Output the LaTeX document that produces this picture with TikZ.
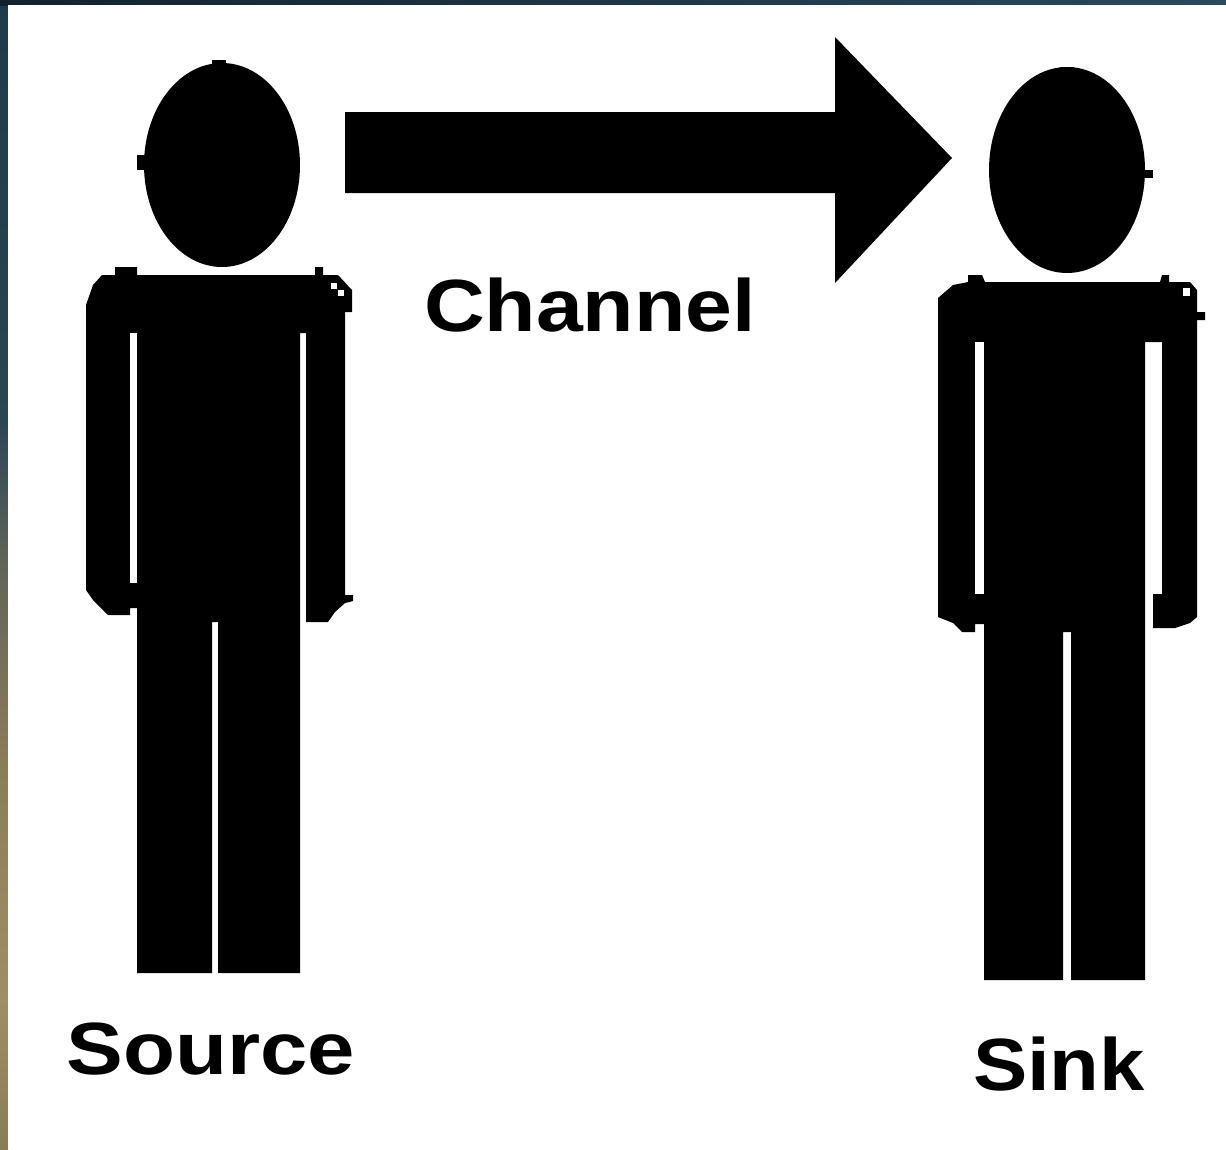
\documentclass[tikz,border=0pt]{standalone}
\usepackage{fontspec}
\setmainfont{Liberation Sans}
\definecolor{edgeA}{HTML}{1E3A4C}
\definecolor{edgeB}{HTML}{2A4654}
\definecolor{edgeC}{HTML}{5F6459}
\definecolor{edgeD}{HTML}{8B7C58}
\definecolor{edgeE}{HTML}{9E8E68}
\definecolor{topA}{HTML}{12222D}
\definecolor{topB}{HTML}{2A4A60}
\tikzset{
  ink/.style={fill=black,draw=none},
  gap/.style={fill=white,draw=none},
  caption/.style={inner sep=0pt,anchor=center,text=black,font=\fontsize{74}{74}\selectfont\bfseries}
}
\begin{document}
\begin{tikzpicture}[x=1pt,y=-1pt]
\useasboundingbox (0,0) rectangle (1226,1149);
% frame of the screenshot
\shade[top color=edgeA,bottom color=edgeB] (0,0) rectangle (8,420);
\shade[top color=edgeB,bottom color=edgeC] (0,420) rectangle (8,560);
\shade[top color=edgeC,bottom color=edgeD] (0,560) rectangle (8,760);
\shade[top color=edgeD,bottom color=edgeE] (0,760) rectangle (8,1000);
\shade[top color=edgeE,bottom color=edgeD] (0,1000) rectangle (8,1149);
\shade[left color=topA,right color=topB] (0,0) rectangle (1226,5);
\fill[white] (8,5) rectangle (1226,1149);
% arrow
\fill[ink] (345,112) -- (835,112) -- (835,37) -- (952,158) -- (835,283) -- (835,193) -- (345,193) -- cycle;
% source person
\fill[ink] (222,165) ellipse [x radius=78,y radius=102];
\fill[ink] (137,155) rectangle (146,170);
\fill[ink] (212,60) rectangle (226,70);
\fill[ink] (115,267) -- (137,267) -- (137,275) -- (315,275) -- (315,267) -- (323,267) -- (323,275) -- (338,275)
  -- (352,290) -- (352,312) -- (345,312) -- (345,595) -- (353,595) -- (353,601) -- (345,603) -- (335,612) -- (328,622) -- (306,622)
  -- (306,333) -- (300,333) -- (300,973) -- (218,973) -- (218,622) -- (212,622) -- (212,973) -- (137,973)
  -- (137,608) -- (130,608) -- (130,615) -- (108,615) -- (93,600) -- (86,590) -- (86,305) -- (93,285) -- (102,275) -- (115,275) -- cycle;
\fill[gap] (130,333) rectangle (137,583);
\fill[gap] (331,283) rectangle (337,289);
\fill[gap] (338,290) rectangle (344,296);
% sink person
\fill[ink] (1067,170) ellipse [x radius=78,y radius=103];
\fill[ink] (1140,170) rectangle (1153,178);
\fill[ink] (1060,67) rectangle (1074,75);
\fill[ink] (968,275) -- (982,275) -- (985,282) -- (1160,282) -- (1162,275) -- (1169,275) -- (1169,282) -- (1190,282)
  -- (1197,290) -- (1197,312) -- (1205,312) -- (1205,320) -- (1197,320) -- (1197,617) -- (1190,623) -- (1175,628) -- (1153,628)
  -- (1153,594) -- (1162,594) -- (1162,342) -- (1145,342) -- (1145,980) -- (1071,980) -- (1071,632) -- (1063,632) -- (1063,980) -- (984,980)
  -- (984,624) -- (975,624) -- (975,632) -- (962,632) -- (953,623) -- (938,617) -- (938,298) -- (953,285) -- (968,282) -- cycle;
\fill[gap] (975,342) rectangle (984,594);
\fill[gap] (1183,288) rectangle (1190,296);
% labels
\node[caption,xscale=1.137] (channel) at (590,305) {Channel};
\node[caption,xscale=1.15] (source) at (211,1049) {Source};
\node[caption,xscale=1.10] (sink) at (1059,1064) {Sink};
\end{tikzpicture}
\end{document}
